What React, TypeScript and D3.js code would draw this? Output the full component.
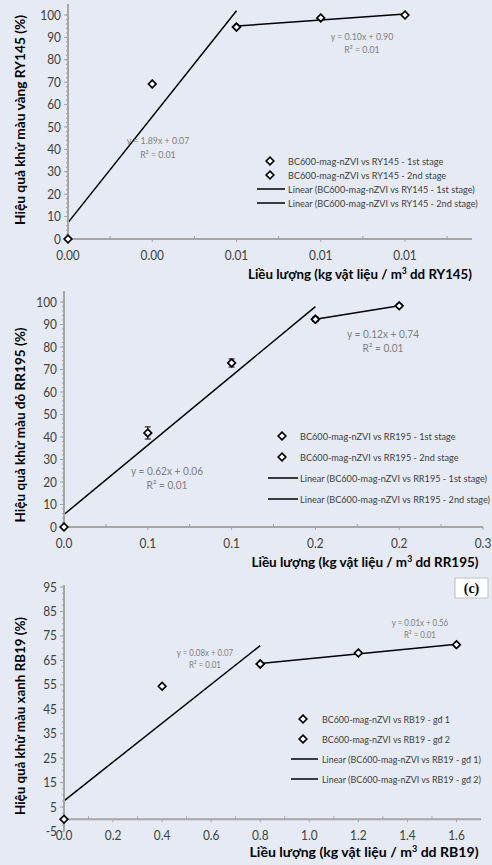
import React from "react";
import * as d3 from "d3";

// ---------- DATA ----------
// Panel (a) RY145
const ryX1 = [0, 0.003, 0.006];
const ryY1 = [0, 69.2, 94.6];
const ryX2 = [0.006, 0.009, 0.012];
const ryY2 = [94.6, 98.7, 100];
const ryXTicks = [0, 0.003, 0.006, 0.009, 0.012];
const ryYTicks = [0, 10, 20, 30, 40, 50, 60, 70, 80, 90, 100];
const ryLegend = [
  "BC600-mag-nZVI vs RY145 - 1st stage",
  "BC600-mag-nZVI vs RY145 - 2nd stage",
  "Linear (BC600-mag-nZVI vs RY145 - 1st stage)",
  "Linear (BC600-mag-nZVI vs RY145 - 2nd stage)",
];
const ryEq = ["y = 1.89x + 0.07", "R² = 0.01", "y = 0.10x + 0.90", "R² = 0.01"];

// Panel (b) RR195
const rrX1 = [0, 0.05, 0.1, 0.15];
const rrY1 = [0, 41.8, 72.9, 92.3];
const rrE1 = [0, 2.7, 1.8, 1.0];
const rrX2 = [0.15, 0.2];
const rrY2 = [92.3, 98.3];
const rrE2 = [1.0, 0.8];
const rrXTicks = [0, 0.05, 0.1, 0.15, 0.2, 0.25];
const rrYTicks = [0, 10, 20, 30, 40, 50, 60, 70, 80, 90, 100];
const rrLegend = [
  "BC600-mag-nZVI vs RR195 - 1st stage",
  "BC600-mag-nZVI vs RR195 - 2nd stage",
  "Linear (BC600-mag-nZVI vs RR195 - 1st stage)",
  "Linear (BC600-mag-nZVI vs RR195 - 2nd stage)",
];
const rrEq = ["y = 0.62x + 0.06", "R² = 0.01", "y = 0.12x + 0.74", "R² = 0.01"];

// Panel (c) RB19
const rbX1 = [0, 0.4, 0.8];
const rbY1 = [0, 54.4, 63.5];
const rbX2 = [0.8, 1.2, 1.6];
const rbY2 = [63.5, 68, 71.4];
const rbXTicks = [0, 0.2, 0.4, 0.6, 0.8, 1.0, 1.2, 1.4, 1.6];
const rbYTicks = [-5, 5, 15, 25, 35, 45, 55, 65, 75, 85, 95];
const rbLegend = [
  "BC600-mag-nZVI vs RB19 - gđ 1",
  "BC600-mag-nZVI vs RB19 - gđ 2",
  "Linear (BC600-mag-nZVI vs RB19 - gđ 1)",
  "Linear (BC600-mag-nZVI vs RB19 - gđ 2)",
];
const rbEq = ["y = 0.08x + 0.07", "R² = 0.01", "y = 0.01x + 0.56", "R² = 0.01"];

const BG = "#e6eaf5";
const FONT = "Lato, 'Open Sans', sans-serif";
const AXIS = "#a6a6a6";
const TXT = "#404040";
const EQ = "#7f7f7f";

function fit(xs: number[], ys: number[]) {
  const mx = d3.mean(xs)!;
  const my = d3.mean(ys)!;
  let sxy = 0, sxx = 0;
  xs.forEach((x, i) => { sxy += (x - mx) * (ys[i] - my); sxx += (x - mx) ** 2; });
  const b = sxy / sxx;
  const a = my - b * mx;
  const x0 = d3.min(xs)!, x1 = d3.max(xs)!;
  return [[x0, a + b * x0], [x1, a + b * x1]] as [number, number][];
}

function roundFmt(t: number, d: number) {
  const p = Math.pow(10, d);
  return (Math.round(t * p) / p).toFixed(d);
}

function Diamond({ cx, cy }: { cx: number; cy: number }) {
  const r = 3.8;
  return (
    <path
      d={`M${cx},${cy - r}L${cx + r},${cy}L${cx},${cy + r}L${cx - r},${cy}Z`}
      fill="#fff" stroke="#000" strokeWidth={1.7}
    />
  );
}

function CText({ x, y, sx, anchor, size, fill, weight, children }: any) {
  return (
    <text transform={`translate(${x},${y}) scale(${sx},1)`} textAnchor={anchor || "start"} fontSize={size}
      fill={fill} fontWeight={weight || "normal"} fontFamily={FONT}>{children}</text>
  );
}

type PanelProps = {
  xDom: [number, number]; xRange: [number, number]; xAxisEnd: number;
  yDom: [number, number]; yRange: [number, number];
  yAxisTop: number; xTicks: number[]; xDec: number; yTicks: number[]; yMinorStep: number;
  x1: number[]; y1: number[]; e1?: number[];
  x2: number[]; y2: number[]; e2?: number[];
  xTitle: string; xTitleX: number; xTitleY: number; xTitleLen: number;
  yTitle: string; yTitleCx: number; yTitleLen: number;
  legend: string[]; legX: number; legMarkX: number; legLine: [number, number]; legY: number[]; legFont: number; legSx: number;
  eq: string[]; eqPos: [number, number][]; eqFont: number;
};

function Panel(p: PanelProps) {
  const x = d3.scaleLinear().domain(p.xDom).range(p.xRange);
  const y = d3.scaleLinear().domain(p.yDom).range(p.yRange);
  const line = d3.line<[number, number]>().x(d => x(d[0])).y(d => y(d[1]));
  const axY = y(0);
  const step = p.xTicks[1] - p.xTicks[0];
  const xMinor = p.xTicks.map(t => t + step / 2).filter(t => x(t) <= p.xAxisEnd);
  const yMinor = d3.range(p.yDom[0], p.yTicks[p.yTicks.length - 1] + 0.001, p.yMinorStep);
  const sup = p.xTitle.split("³");
  const pts1 = p.x1.map((v, i) => [v, p.y1[i]] as [number, number]);
  const pts2 = p.x2.map((v, i) => [v, p.y2[i]] as [number, number]);
  return (
    <g>
      {/* trendlines */}
      <path d={line(fit(p.x1, p.y1))!} fill="none" stroke="#000" strokeWidth={1.5} />
      <path d={line(fit(p.x2, p.y2))!} fill="none" stroke="#000" strokeWidth={1.5} />
      {/* axes */}
      <line x1={p.xRange[0]} x2={p.xRange[0]} y1={p.yRange[0]} y2={p.yAxisTop} stroke={AXIS} strokeWidth={2} />
      <line x1={p.xRange[0]} x2={p.xAxisEnd} y1={axY} y2={axY} stroke={AXIS} strokeWidth={2} />
      {yMinor.map((t, i) => (
        <line key={"ym" + i} x1={p.xRange[0] - 2} x2={p.xRange[0]} y1={y(t)} y2={y(t)} stroke={AXIS} strokeWidth={1} />
      ))}
      {p.yTicks.map((t, i) => (
        <g key={"yt" + i}>
          <line x1={p.xRange[0] - 4} x2={p.xRange[0]} y1={y(t)} y2={y(t)} stroke={AXIS} strokeWidth={1} />
          <CText x={p.xRange[0] - 7} y={y(t) + 4.5} sx={0.95} anchor="end" size={12.5} fill={TXT}>{t}</CText>
        </g>
      ))}
      {xMinor.map((t, i) => (
        <line key={"xm" + i} x1={x(t)} x2={x(t)} y1={axY - 3} y2={axY} stroke={AXIS} strokeWidth={1} />
      ))}
      {p.xTicks.map((t, i) => (
        <g key={"xt" + i}>
          <line x1={x(t)} x2={x(t)} y1={axY} y2={axY + 3} stroke={AXIS} strokeWidth={1} />
          <CText x={x(t)} y={axY + 21} sx={0.95} anchor="middle" size={12.5} fill={TXT}>{roundFmt(t, p.xDec)}</CText>
        </g>
      ))}
      {/* error bars */}
      {[[pts1, p.e1], [pts2, p.e2]].map(([pts, es]: any, k) =>
        es ? (pts as [number, number][]).map((d, i) => es[i] > 0 ? (
          <g key={"e" + k + i} stroke="#000" strokeWidth={1}>
            <line x1={x(d[0])} x2={x(d[0])} y1={y(d[1] - es[i])} y2={y(d[1] + es[i])} />
            <line x1={x(d[0]) - 3} x2={x(d[0]) + 3} y1={y(d[1] - es[i])} y2={y(d[1] - es[i])} />
            <line x1={x(d[0]) - 3} x2={x(d[0]) + 3} y1={y(d[1] + es[i])} y2={y(d[1] + es[i])} />
          </g>
        ) : null) : null
      )}
      {/* markers */}
      {pts1.map((d, i) => <Diamond key={"a" + i} cx={x(d[0])} cy={y(d[1])} />)}
      {pts2.map((d, i) => <Diamond key={"b" + i} cx={x(d[0])} cy={y(d[1])} />)}
      {/* equations */}
      {p.eq.map((s, i) => (
        <CText key={"q" + i} x={p.eqPos[i][0]} y={p.eqPos[i][1] + 4} sx={0.88} anchor="middle" size={p.eqFont} fill={EQ}>{s}</CText>
      ))}
      {/* legend */}
      {p.legend.map((s, i) => (
        <g key={"l" + i}>
          {i < 2 ? <Diamond cx={p.legMarkX} cy={p.legY[i]} /> :
            <line x1={p.legLine[0]} x2={p.legLine[1]} y1={p.legY[i]} y2={p.legY[i]} stroke="#000" strokeWidth={1.5} />}
          <CText x={p.legX} y={p.legY[i] + 3.5} sx={p.legSx} size={p.legFont} fill={TXT}>{s}</CText>
        </g>
      ))}
      {/* axis titles */}
      <text x={p.xTitleX} y={p.xTitleY} textAnchor="middle" fontSize={14} fontWeight="bold" fill="#000" fontFamily={FONT}
        textLength={p.xTitleLen} lengthAdjust="spacingAndGlyphs">
        {sup[0]}<tspan dy={-5} fontSize={9}>3</tspan><tspan dy={5}>{sup[1]}</tspan>
      </text>
      <text transform={`translate(25,${p.yTitleCx}) rotate(-90)`} textAnchor="middle" fontSize={14} fontWeight="bold" fill="#000"
        fontFamily={FONT} textLength={p.yTitleLen} lengthAdjust="spacingAndGlyphs">{p.yTitle}</text>
    </g>
  );
}

export default function App() {
  return (
    <svg width={492} height={865} style={{ position: "absolute", left: 0, top: 0 }}>
      <rect width={492} height={865} fill={BG} />
      <Panel
        xDom={[0, 0.012]} xRange={[68, 405]} xAxisEnd={472} yDom={[0, 100]} yRange={[239, 15]}
        yAxisTop={4} xTicks={ryXTicks} xDec={2} yTicks={ryYTicks} yMinorStep={2}
        x1={ryX1} y1={ryY1} x2={ryX2} y2={ryY2}
        xTitle="Liều lượng (kg vật liệu / m³ dd RY145)" xTitleX={360} xTitleY={279} xTitleLen={224}
        yTitle="Hiệu quả khử màu vàng RY145 (%)" yTitleCx={120} yTitleLen={210}
        legend={ryLegend} legX={288} legMarkX={270} legLine={[257, 285]} legY={[161, 175, 189, 203]} legFont={10} legSx={0.915}
        eq={ryEq} eqPos={[[158, 140], [158, 154], [362, 36], [362, 49]]} eqFont={10}
      />
      <Panel
        xDom={[0, 0.25]} xRange={[64, 483]} xAxisEnd={483} yDom={[0, 100]} yRange={[527, 302]}
        yAxisTop={291} xTicks={rrXTicks} xDec={1} yTicks={rrYTicks} yMinorStep={2}
        x1={rrX1} y1={rrY1} e1={rrE1} x2={rrX2} y2={rrY2} e2={rrE2}
        xTitle="Liều lượng (kg vật liệu / m³ dd RR195)" xTitleX={365} xTitleY={567} xTitleLen={227}
        yTitle="Hiệu quả khử màu đỏ RR195  (%)" yTitleCx={425} yTitleLen={195}
        legend={rrLegend} legX={300} legMarkX={282} legLine={[268, 298]} legY={[436, 457, 478, 499]} legFont={10} legSx={0.915}
        eq={rrEq} eqPos={[[167, 471], [167, 485], [383, 334], [383, 348]]} eqFont={11.5}
      />
      <Panel
        xDom={[0, 1.7]} xRange={[64, 481]} xAxisEnd={481} yDom={[-5, 95]} yRange={[831.5, 587]}
        yAxisTop={585} xTicks={rbXTicks} xDec={1} yTicks={rbYTicks} yMinorStep={2.5}
        x1={rbX1} y1={rbY1} x2={rbX2} y2={rbY2}
        xTitle="Liều lượng (kg vật liệu / m³ dd RB19)" xTitleX={364} xTitleY={857} xTitleLen={229}
        yTitle="Hiệu quả khử màu xanh RB19  (%)" yTitleCx={716} yTitleLen={198}
        legend={rbLegend} legX={322} legMarkX={303} legLine={[291, 318]} legY={[719, 739, 759, 779]} legFont={10} legSx={0.89}
        eq={rbEq} eqPos={[[205, 652], [205, 664], [420, 622], [420, 634]]} eqFont={9}
      />
      <rect x={455} y={578} width={33} height={20} fill="#fff" stroke="#bfbfbf" strokeWidth={1} />
      <text x={471.5} y={593} textAnchor="middle" fontSize={14} fontWeight="bold" fontFamily="'Liberation Serif', serif">(c)</text>
    </svg>
  );
}
